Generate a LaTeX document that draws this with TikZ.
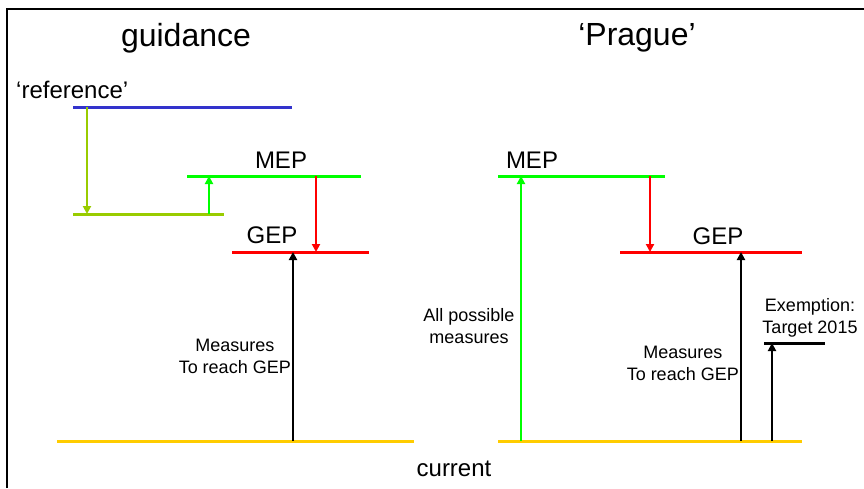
\documentclass[tikz,border=0pt]{standalone}
\usepackage{fontspec}
\setmainfont{Liberation Sans}
\usetikzlibrary{arrows.meta}
\begin{document}
\begin{tikzpicture}[x=1pt,y=-1pt,
  level/.style={line width=3pt},
  arr/.style={line width=2.5pt,-{Triangle[length=8pt,width=8pt]}},
  titletext/.style={font=\fontsize{32}{36}\selectfont,inner sep=0pt},
  lbl/.style={font=\fontsize{24}{28}\selectfont,inner sep=0pt},
  small/.style={font=\fontsize{18}{22}\selectfont,align=center,inner sep=0pt}]
\useasboundingbox (0,0) rectangle (864,488);
\fill[white] (0,0) rectangle (864,488);
% frame
\draw[line width=2.5pt] (7,488) -- (7,9) -- (864,9);

% titles
\node[titletext] (tg) at (186,38) {guidance};
\node[titletext] (tp) at (637,38) {‘Prague’};

% ----- left panel -----
\node[lbl,anchor=west] (tref) at (16,90) {‘reference’};
\coordinate (b1) at (73,107);  \coordinate (b2) at (292,107);
\coordinate (o1) at (73,214);  \coordinate (o2) at (224,214);
\coordinate (m1) at (187,176); \coordinate (m2) at (361,176);
\coordinate (g1) at (232,252); \coordinate (g2) at (369,252);
\coordinate (c1) at (57,441);  \coordinate (c2) at (414,441);
\draw[level,color={rgb,255:red,51;green,51;blue,204}] (b1) -- (b2);
\draw[level,color={rgb,255:red,153;green,204;blue,0}] (o1) -- (o2);
\draw[level,green] (m1) -- (m2);
\draw[level,red] (g1) -- (g2);
\draw[level,color={rgb,255:red,255;green,204;blue,0}] (c1) -- (c2);
\node[lbl] (lmep) at (281,160) {MEP};
\node[lbl] (lgep) at (272,235) {GEP};

\coordinate (a1s) at (87,107);  \coordinate (a1e) at (87,214);
\coordinate (a2s) at (209,214); \coordinate (a2e) at (209,176);
\coordinate (a3s) at (316,176); \coordinate (a3e) at (316,252);
\coordinate (a4s) at (293,441); \coordinate (a4e) at (293,252);
\draw[arr,color={rgb,255:red,153;green,204;blue,0}] (a1s) -- (a1e);
\draw[arr,green] (a2s) -- (a2e);
\draw[arr,red] (a3s) -- (a3e);
\draw[arr,black] (a4s) -- (a4e);
\node[small,anchor=east] (lmeas) at (291,356) {Measures\\To reach GEP};

% ----- right panel -----
\coordinate (rm1) at (498,176); \coordinate (rm2) at (665,176);
\coordinate (rg1) at (620,252); \coordinate (rg2) at (802,252);
\coordinate (rc1) at (498,441); \coordinate (rc2) at (802,441);
\coordinate (rx1) at (764,343); \coordinate (rx2) at (825,343);
\draw[level,green] (rm1) -- (rm2);
\draw[level,red] (rg1) -- (rg2);
\draw[level,color={rgb,255:red,255;green,204;blue,0}] (rc1) -- (rc2);
\draw[level,black] (rx1) -- (rx2);
\node[lbl] (rmep) at (532,160) {MEP};
\node[lbl] (rgep) at (718,236) {GEP};

\coordinate (b1s) at (521,441); \coordinate (b1e) at (521,176);
\coordinate (b2s) at (650,176); \coordinate (b2e) at (650,252);
\coordinate (b3s) at (741,441); \coordinate (b3e) at (741,252);
\coordinate (b4s) at (772,441); \coordinate (b4e) at (772,343);
\draw[arr,green] (b1s) -- (b1e);
\draw[arr,red] (b2s) -- (b2e);
\draw[arr,black] (b3s) -- (b3e);
\draw[arr,black] (b4s) -- (b4e);

\node[small] (rall) at (469,326) {All possible\\measures};
\node[small,anchor=east] (rmeas) at (739,363) {Measures\\To reach GEP};
\node[small] (rex) at (810,318) {Exemption:\\Target 2015};

\node[lbl] (cur) at (454,469) {current};
\end{tikzpicture}
\end{document}
